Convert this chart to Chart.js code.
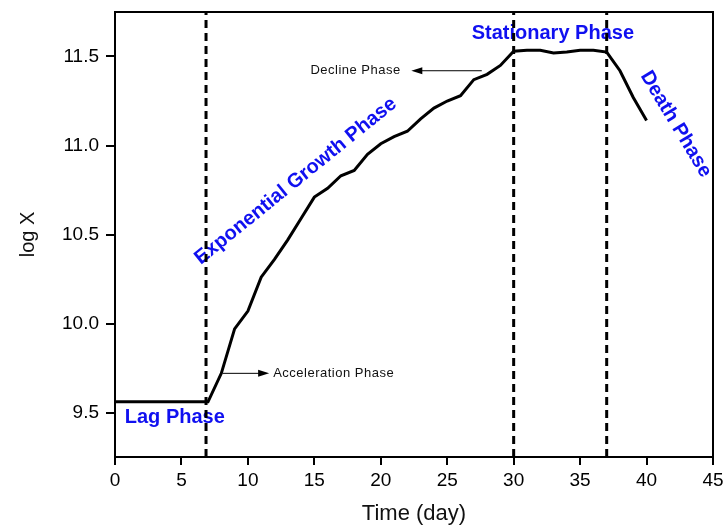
<!DOCTYPE html>
<html>
<head>
<meta charset="utf-8">
<script src="https://cdn.jsdelivr.net/npm/chart.js@4.4.1/dist/chart.umd.min.js"></script>
<style>
  html, body { margin: 0; padding: 0; background: #fff; }
  #wrap { width: 725px; height: 528px; }
</style>
</head>
<body>
<div id="wrap"><canvas id="chart"></canvas></div>
<script>
// Growth curve, log X against time, with the phase boundaries marked.
const days = [0, 7, 8, 9, 10, 11, 12, 13, 14, 15, 16, 17, 18, 19, 20, 21, 22, 23, 24, 25,
  26, 27, 28, 29, 30, 31, 32, 33, 34, 35, 36, 37, 38, 39, 40];
const logX = [9.56, 9.56, 9.72, 9.97, 10.07, 10.26, 10.36, 10.47, 10.59, 10.71, 10.76, 10.83,
  10.86, 10.95, 11.01, 11.05, 11.08, 11.15, 11.21, 11.25, 11.28, 11.37, 11.40, 11.45, 11.53,
  11.535, 11.535, 11.52, 11.525, 11.535, 11.535, 11.525, 11.42, 11.27, 11.14];
const phaseLines = [6.85, 30, 37];
const xTicks = [0, 5, 10, 15, 20, 25, 30, 35, 40, 45];
const yTicks = [9.5, 10.0, 10.5, 11.0, 11.5];
const yMin = 9.25, yMax = 11.75;

const FONT = "'Liberation Sans', Arial, sans-serif";
const BLUE = "#1010f0";

// phase names, placed in data units
const phaseNotes = [
  { text: "Lag Phase", x: 4.5, y: 9.47, angle: 0 },
  { text: "Exponential Growth Phase", x: 13.6, y: 10.8, angle: -39 },
  { text: "Stationary Phase", x: 32.95, y: 11.63, angle: 0 },
  { text: "Death Phase", x: 42.2, y: 11.12, angle: 59 },
];
const smallNotes = [
  { text: "Acceleration Phase", x: 11.9, y: 9.72, align: "left" },
  { text: "Decline Phase", x: 21.5, y: 11.42, align: "right" },
];
const arrows = [
  { x0: 8.1, x1: 11.6, y: 9.72 },
  { x0: 27.6, x1: 22.3, y: 11.42 },
];

const notesPlugin = {
  id: "notes",
  beforeDatasetsDraw(c) {
    const ctx = c.ctx, xs = c.scales.x, ys = c.scales.y;
    ctx.save();
    ctx.fillStyle = BLUE;
    ctx.font = "bold 20px " + FONT;
    ctx.textAlign = "center";
    ctx.textBaseline = "middle";
    phaseNotes.forEach((n) => {
      ctx.save();
      ctx.translate(xs.getPixelForValue(n.x), ys.getPixelForValue(n.y));
      ctx.rotate((n.angle * Math.PI) / 180);
      ctx.fillText(n.text, 0, 0);
      ctx.restore();
    });
    ctx.fillStyle = "#111";
    ctx.font = "13px " + FONT;
    ctx.letterSpacing = "0.5px";
    smallNotes.forEach((n) => {
      ctx.textAlign = n.align;
      ctx.fillText(n.text, xs.getPixelForValue(n.x), ys.getPixelForValue(n.y));
    });
    ctx.restore();
  },
  afterDatasetsDraw(c) {
    const ctx = c.ctx, xs = c.scales.x, ys = c.scales.y;
    ctx.save();
    ctx.strokeStyle = "#000";
    ctx.fillStyle = "#000";
    ctx.lineWidth = 1;
    arrows.forEach((a) => {
      const p0 = xs.getPixelForValue(a.x0), p1 = xs.getPixelForValue(a.x1);
      const py = ys.getPixelForValue(a.y);
      const dir = Math.sign(p1 - p0);
      ctx.beginPath();
      ctx.moveTo(p0, py);
      ctx.lineTo(p1 - dir * 6, py);
      ctx.stroke();
      ctx.beginPath();
      ctx.moveTo(p1, py);
      ctx.lineTo(p1 - dir * 11, py - 3.5);
      ctx.lineTo(p1 - dir * 11, py + 3.5);
      ctx.closePath();
      ctx.fill();
    });
    // close the frame on top and right
    const a = c.chartArea;
    ctx.lineWidth = 2;
    ctx.strokeRect(a.left, a.top, a.right - a.left, a.bottom - a.top);
    ctx.restore();
  },
};

const datasets = [
  {
    data: days.map((d, i) => ({ x: d, y: logX[i] })),
    borderColor: "#000",
    borderWidth: 3,
    pointRadius: 0,
    tension: 0,
    fill: false,
  },
];
phaseLines.forEach((p) => {
  datasets.push({
    data: [{ x: p, y: yMin }, { x: p, y: yMax }],
    borderColor: "#000",
    borderWidth: 3,
    borderDash: [8, 5],
    pointRadius: 0,
    fill: false,
  });
});

new Chart(document.getElementById("chart").getContext("2d"), {
  type: "line",
  data: { datasets },
  options: {
    responsive: true,
    maintainAspectRatio: false,
    animation: false,
    layout: { padding: { top: 12, right: 12, left: 0, bottom: 0 } },
    plugins: { legend: { display: false }, tooltip: { enabled: false } },
    scales: {
      x: {
        type: "linear",
        min: 0,
        max: 45,
        afterBuildTicks: (ax) => { ax.ticks = xTicks.map((v) => ({ value: v })); },
        afterFit: (ax) => { ax.height = 71; ax.paddingLeft = 0; ax.paddingRight = 0; },
        border: { color: "#000", width: 2 },
        grid: { drawOnChartArea: false, color: "#000", lineWidth: 2, tickLength: 8 },
        ticks: { color: "#000", padding: 4, font: { family: FONT, size: 19 }, maxRotation: 0,
          callback: (v) => String(v) },
        title: { display: true, text: "Time (day)", color: "#111",
          font: { family: FONT, size: 22 }, padding: { top: 0, bottom: 1 } },
      },
      y: {
        type: "linear",
        min: yMin,
        max: yMax,
        afterBuildTicks: (ax) => { ax.ticks = yTicks.map((v) => ({ value: v })); },
        afterFit: (ax) => { ax.width = 115; ax.paddingTop = 0; ax.paddingBottom = 0; },
        border: { color: "#000", width: 2 },
        grid: { drawOnChartArea: false, color: "#000", lineWidth: 2, tickLength: 9 },
        ticks: { color: "#000", padding: 7, font: { family: FONT, size: 19 },
          callback: (v) => v.toFixed(1) },
        title: { display: true, text: "log X", color: "#111",
          font: { family: FONT, size: 20 }, padding: { top: 16, bottom: 0 } },
      },
    },
  },
  plugins: [notesPlugin],
});
</script>
</body>
</html>
